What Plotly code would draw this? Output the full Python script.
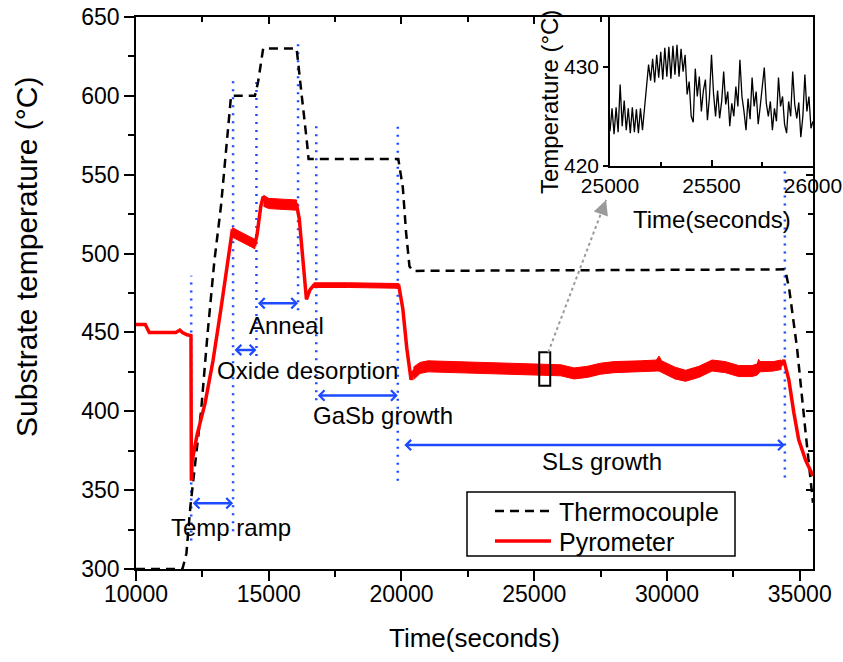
import plotly.graph_objects as go

FONT = "Liberation Sans, Arial, sans-serif"
BLUE = "#1C4BFF"

# ---------------- data ----------------
tc_time = [10000, 11750, 11900, 12050, 12250, 12450, 12700, 12950, 13200, 13400, 13580,
           14480, 14600, 14700, 14790, 16050, 16100, 16250, 16430, 16500, 19880, 20050,
           20175, 20300, 20420, 34450, 34600, 34900, 35200, 35500]
tc_temp = [300, 300, 310, 340, 370, 400, 450, 495, 530, 565, 600,
           600, 609, 620, 630, 630, 621, 599, 572, 560, 560, 542,
           513, 492, 489, 490, 478, 440, 390, 342]

py_time = [10000, 10350, 10500, 11500, 11650, 11750, 11920, 12070, 12085, 12095, 12110,
           12300, 12600, 12900, 13200, 13450, 13620, 14000, 14480, 14560, 14700, 14790,
           15000, 15500, 16050, 16150, 16300, 16420, 16550, 16700, 19000, 19900, 20050,
           20200, 20360, 20450, 20600, 21000, 22000, 23000, 24000, 25000, 25500, 26000,
           26500, 27000, 27500, 28000, 29000, 29600, 29700, 29800, 30300, 30700, 31200,
           31700, 32200, 32700, 33200, 33400, 33450, 33500, 34000, 34300, 34400, 34590,
           34780, 34960, 35220, 35500]
py_temp = [455, 455, 450, 450, 451.5, 450, 448.5, 448, 357, 357, 368,
           385, 405, 432, 465, 492, 514, 510, 506, 512, 530, 536,
           532, 531.5, 531, 522, 490, 471, 477, 480, 480, 479.5, 465,
           440, 420, 425, 428, 428.5, 428, 427.5, 427, 426.5, 427, 426,
           424, 425, 427, 428, 428.5, 429, 431.5, 428.5, 424.5, 422.5, 425,
           429, 428, 425.5, 425.5, 427, 430, 428, 428.5, 429.5, 432.5, 420,
           399, 382, 369, 359]

# noise envelopes of the pyrometer trace (upper / lower)
b1_time = [13620, 14000, 14480]
b1_hi = [516.5, 513, 509]
b1_lo = [510.5, 507, 503]
b2_time = [14800, 15000, 15500, 16050]
b2_hi = [537, 535, 534.5, 534]
b2_lo = [530, 528.5, 528, 527.5]
b3_time = [16700, 18000, 19900]
b3_hi = [481.5, 481.5, 481]
b3_lo = [478.5, 478.5, 478]
b4_time = [20450, 20700, 21000, 22000, 23000, 24000, 25000, 26000, 26500, 27000, 27500,
           28000, 29000, 29600, 29700, 29800, 30300, 30700, 31200, 31700, 32200, 32700,
           33200, 33400, 33450, 33500, 34000, 34300]
b4_hi = [428, 431, 432, 431.5, 431, 430.5, 430, 429.5, 427.5, 428.5, 430.5,
         431.5, 432, 432.5, 435, 432, 428, 426, 428.5, 432.5, 431.5, 429,
         429, 430, 433, 431.5, 431.5, 432.5]
b4_lo = [420, 424, 425, 424.5, 424, 423.5, 423, 422.5, 420.5, 421.5, 423.5,
         424.5, 425, 425.5, 425.5, 424.5, 420.5, 419, 421.5, 425.5, 424.5, 422,
         422, 423, 424, 425, 425.5, 426.5]

# inset (pyrometer zoom, 25000-26000 s)
in_time = list(range(25000, 26001, 10))
in_temp = [423.5, 425.8, 423.2, 425.9, 423.4, 428.2, 424.0, 426.6, 423.6, 425.8,
           423.3, 425.9, 423.4, 425.7, 423.3, 425.8, 423.6, 426.0, 428.5, 430.2,
           428.6, 430.8, 428.4, 431.2, 428.9, 431.5, 428.7, 431.9, 429.0, 432.0,
           428.8, 432.1, 429.2, 432.2, 429.0, 431.8, 429.5, 431.2, 427.2, 428.5,
           425.0, 424.4, 429.8, 427.0, 429.0, 425.5, 427.6, 428.7, 424.6, 427.0,
           431.2, 427.3, 425.0, 427.6, 424.8, 426.5, 429.5, 426.2, 427.5, 424.0,
           426.3, 425.0, 428.0, 426.0, 430.7, 427.0, 425.5, 423.6, 426.8, 424.7,
           428.9, 426.0, 427.5, 424.2, 426.0, 427.8, 429.9, 426.3, 425.0, 426.5,
           423.6, 425.8, 424.5, 428.9, 426.0, 427.0, 424.2, 423.3, 426.5, 425.0,
           429.5, 426.2, 424.8, 426.4, 422.9, 425.0, 429.2, 425.5, 427.0, 423.8,
           424.5]

# stage marker lines (x, bottom, top)
vl_x = [12080, 13656, 14537, 16104, 16790, 19860, 34440]
vl_lo = [318, 324, 435, 464, 407, 356, 358]
vl_hi = [486, 611, 611, 634, 581, 581, 566]

# stage arrows (start, end, level) and labels
st_names = ["Temp ramp", "Oxide desorption", "Anneal", "GaSb growth", "SLs growth"]
st_x0 = [12080, 13656, 14537, 16790, 20050]
st_x1 = [13656, 14537, 16104, 19860, 34440]
st_y = [341.7, 438.9, 468.5, 410, 378.6]
lab_x = [13596, 16447, 15665, 19286, 27556]
lab_y = [326, 426, 454.5, 397.5, 368]

# zoom box and pointer
box_x = [25188, 25602]
box_y = [416.2, 437.4]
ptr_x = [25526, 27707]
ptr_y = [437.4, 534]

series_names = ["Thermocouple", "Pyrometer"]

# ---------------- figure ----------------
fig = go.Figure()

fig.add_trace(go.Scatter(x=tc_time, y=tc_temp, mode="lines", name=series_names[0],
                         showlegend=False,
                         line=dict(color="black", width=2.5, dash="9px,6px")))

bx, by = [], []
for t, hi, lo in [(b1_time, b1_hi, b1_lo), (b2_time, b2_hi, b2_lo),
                  (b3_time, b3_hi, b3_lo), (b4_time, b4_hi, b4_lo)]:
    bx += t + t[::-1] + [None]
    by += hi + lo[::-1] + [None]
fig.add_trace(go.Scatter(x=bx, y=by, mode="lines", fill="toself", fillcolor="#ff0000",
                         line=dict(color="#ff0000", width=1), showlegend=False,
                         hoverinfo="skip"))

fig.add_trace(go.Scatter(x=py_time, y=py_temp, mode="lines", name=series_names[1],
                         showlegend=False, line=dict(color="#ff0000", width=3.5)))

# dummy trace for mirrored inside ticks (top / right)
fig.add_trace(go.Scatter(x=[None], y=[None], xaxis="x3", yaxis="y3", showlegend=False,
                         hoverinfo="skip"))

# inset
fig.add_trace(go.Scatter(x=in_time, y=in_temp, mode="lines", xaxis="x2", yaxis="y2",
                         showlegend=False, line=dict(color="black", width=1.3)))

shapes = []
for x, lo, hi in zip(vl_x, vl_lo, vl_hi):
    shapes.append(dict(type="line", xref="x", yref="y", x0=x, x1=x, y0=lo, y1=hi,
                       line=dict(color=BLUE, width=2.5, dash="2px,6px"), layer="below"))
shapes.append(dict(type="rect", xref="x", yref="y", x0=box_x[0], x1=box_x[1],
                   y0=box_y[0], y1=box_y[1], line=dict(color="black", width=2)))
shapes.append(dict(type="line", xref="x", yref="y", x0=ptr_x[0], x1=ptr_x[1],
                   y0=ptr_y[0], y1=ptr_y[1], line=dict(color="#9a9a9a", width=2, dash="dot")))

# legend box (drawn manually to match the original's proportions)
W, H = 843.0, 662.0
shapes.append(dict(type="rect", xref="paper", yref="paper", x0=467 / W, x1=735 / W,
                   y0=1 - 556 / H, y1=1 - 492 / H, fillcolor="white",
                   line=dict(color="black", width=1.5)))
shapes.append(dict(type="line", xref="paper", yref="paper", x0=495 / W, x1=551 / W,
                   y0=1 - 511 / H, y1=1 - 511 / H,
                   line=dict(color="black", width=2.5, dash="9px,6px")))
shapes.append(dict(type="line", xref="paper", yref="paper", x0=495 / W, x1=551 / W,
                   y0=1 - 541 / H, y1=1 - 541 / H, line=dict(color="#ff0000", width=3.5)))

annots = []
for name, x0, x1, y, lx, ly in zip(st_names, st_x0, st_x1, st_y, lab_x, lab_y):
    annots.append(dict(x=x1, y=y, ax=x0, ay=y, xref="x", yref="y", axref="x", ayref="y",
                       text="", showarrow=True, arrowhead=4, startarrowhead=4,
                       arrowside="end+start", arrowsize=0.8, startarrowsize=0.8,
                       arrowwidth=2.5, arrowcolor=BLUE, standoff=0, startstandoff=0))
    annots.append(dict(x=lx, y=ly, xref="x", yref="y", text=name, showarrow=False,
                       xanchor="center", yanchor="middle",
                       font=dict(family=FONT, size=24, color="black")))
annots.append(dict(x=ptr_x[1], y=ptr_y[1], xref="x", yref="y", ax=-3.5, ay=9.4,
                   text="", showarrow=True, arrowhead=2, arrowsize=1.5, arrowwidth=2,
                   arrowcolor="#9a9a9a", standoff=0))


def ptext(txt, px, py, size, angle=0, xanchor="center"):
    annots.append(dict(x=px / W, y=1 - py / H, xref="paper", yref="paper", text=txt,
                       textangle=angle, showarrow=False, xanchor=xanchor,
                       yanchor="middle", font=dict(family=FONT, size=size, color="black")))


ptext("Substrate temperature (°C)", 27, 257, 30, -90)
ptext("Time(seconds)", 474.5, 638, 26)
ptext("Temperature (°C)", 550, 102, 24, -90)
ptext("Time(seconds)", 712, 219, 24)
ptext(series_names[0], 557, 512, 25, xanchor="left")
ptext(series_names[1], 557, 542, 25, xanchor="left")

XD = [136 / W, 813 / W]
YD = [1 - 569 / H, 1 - 17 / H]
ax_common = dict(showgrid=False, zeroline=False, linecolor="black", linewidth=1.5,
                 tickcolor="black", tickwidth=1.5, automargin=False)

fig.update_layout(
    width=843, height=662, margin=dict(l=0, r=0, t=0, b=0, autoexpand=False),
    paper_bgcolor="white", plot_bgcolor="white", showlegend=False,
    font=dict(family=FONT, color="black"),
    xaxis=dict(domain=XD, anchor="y", range=[10000, 35500], tick0=10000, dtick=5000,
               tickformat="d", ticks="outside", ticklen=10, showline=True, mirror=True,
               tickfont=dict(size=23), ticklabelstandoff=-6,
               minor=dict(dtick=2500, ticks="outside", ticklen=6, tickcolor="black",
                          tickwidth=1.5),
               **ax_common),
    yaxis=dict(domain=YD, anchor="x", range=[300, 650], tick0=300, dtick=50,
               ticks="outside", ticklen=10, showline=True, mirror=True,
               tickfont=dict(size=23),
               minor=dict(dtick=25, ticks="outside", ticklen=6, tickcolor="black",
                          tickwidth=1.5),
               **ax_common),
    xaxis3=dict(overlaying="x", side="top", anchor="y", range=[10000, 35500],
                tick0=10000, dtick=5000, ticks="inside", ticklen=7, showticklabels=False,
                showline=False, showgrid=False, zeroline=False, tickcolor="black",
                tickwidth=1.5, automargin=False,
                minor=dict(dtick=2500, ticks="inside", ticklen=5, tickcolor="black",
                           tickwidth=1.5)),
    yaxis3=dict(overlaying="y", side="right", anchor="x", range=[300, 650],
                tick0=300, dtick=50, ticks="inside", ticklen=7, showticklabels=False,
                showline=False, showgrid=False, zeroline=False, tickcolor="black",
                tickwidth=1.5, automargin=False,
                minor=dict(dtick=25, ticks="inside", ticklen=5, tickcolor="black",
                           tickwidth=1.5)),
    xaxis2=dict(domain=[610 / W, 813 / W], anchor="y2", range=[25000, 26000],
                tick0=25000, dtick=500, tickformat="d", ticks="inside", ticklen=6,
                showline=True, mirror=True, tickfont=dict(size=21),
                minor=dict(dtick=250, ticks="inside", ticklen=4, tickcolor="black"),
                **ax_common),
    yaxis2=dict(domain=[1 - 166 / H, 1 - 17 / H], anchor="x2", range=[420, 435],
                tick0=420, dtick=10, ticks="outside", ticklen=5, showline=True,
                mirror=True, tickfont=dict(size=21), **ax_common),
    shapes=shapes, annotations=annots,
)

fig.write_html("out.html")
